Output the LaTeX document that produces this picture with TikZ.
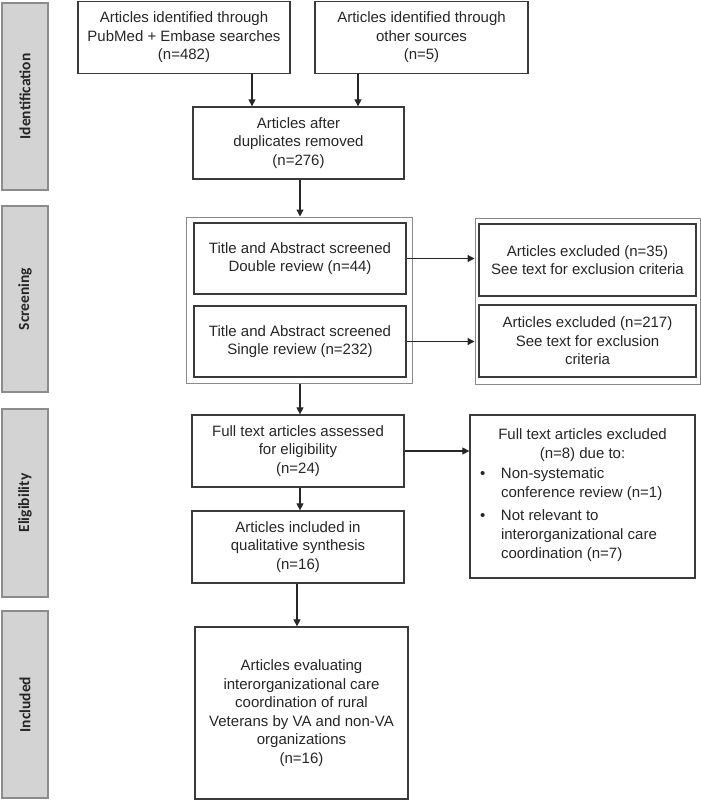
\documentclass[tikz,border=0pt]{standalone}
\usepackage{fontspec}
\setmainfont{Liberation Sans}
\newfontfamily\labelfont{Carlito}
\usetikzlibrary{arrows.meta,calc}
\definecolor{boxline}{HTML}{3A3A3A}
\definecolor{outerline}{HTML}{8A8A8A}
\definecolor{labelfill}{HTML}{D3D3D3}
\definecolor{labelline}{HTML}{8C8C8C}
\begin{document}
\begin{tikzpicture}[x=1pt,y=-1pt,
  box/.style={draw=boxline,line width=1.3pt,align=center,inner sep=0pt,
    font=\fontsize{15}{18.5}\selectfont,text=black!85},
  outerbox/.style={draw=outerline,line width=1pt,inner sep=0pt},
  phase/.style={draw=labelline,fill=labelfill,line width=1.4pt,inner sep=0pt,
    minimum height=46pt,rotate=90,text=black!85,font=\labelfont\bfseries\fontsize{15.5}{18}\selectfont},
  arr/.style={draw=black!85,line width=1.2pt,-{Triangle[length=7pt,width=7pt]}}]
\useasboundingbox (0,0) rectangle (701,800);
% phase labels
\node[phase,minimum width=187pt] (lid) at (25,96.5) {Identification};
\node[phase,minimum width=186pt] (lsc) at (25,299) {Screening};
\node[phase,minimum width=188pt] (lel) at (25,503) {Eligibility};
\node[phase,minimum width=187pt] (lin) at (25,704.5) {Included};
% identification
\node[box,minimum width=212pt,minimum height=72pt] (b1) at (184,37.5)
  {Articles identified through\\PubMed + Embase searches\\(n=482)};
\node[box,minimum width=213pt,minimum height=72pt] (b2) at (421.5,37.5)
  {Articles identified through\\other sources\\(n=5)};
\node[box,minimum width=211pt,minimum height=72pt] (b3) at (298.5,143)
  {Articles after\\duplicates removed\\(n=276)};
% screening
\node[outerbox,minimum width=226pt,minimum height=166pt] (sout) at (299,300) {};
\node[box,minimum width=212pt,minimum height=71pt] (s1) at (300,258.5)
  {Title and Abstract screened\\Double review (n=44)};
\node[box,minimum width=212pt,minimum height=71pt] (s2) at (300,341.5)
  {Title and Abstract screened\\Single review (n=232)};
\node[outerbox,minimum width=225pt,minimum height=166pt] (rout) at (587.5,301) {};
\node[box,minimum width=217pt,minimum height=72pt] (r1) at (587.5,260)
  {Articles excluded (n=35)\\See text for exclusion criteria};
\node[box,minimum width=217pt,minimum height=72pt] (r2) at (587.5,341)
  {Articles excluded (n=217)\\See text for exclusion\\criteria};
% eligibility
\node[box,minimum width=212pt,minimum height=72pt] (ft) at (298,451)
  {Full text articles assessed\\for eligibility\\(n=24)};
\node[box,minimum width=212pt,minimum height=72pt] (qs) at (298,547)
  {Articles included in\\qualitative synthesis\\(n=16)};
\node[box,minimum width=225pt,minimum height=163pt,align=left] (ex) at (582.5,496.5)
  {\begin{minipage}{205pt}\fontsize{15}{19}\selectfont
   \centering Full text articles excluded\\(n=8) due to:\par\vspace{2pt}
   \raggedright
   \begin{tabular}{@{}p{21pt}@{}p{184pt}@{}}
   \textbullet & Non-systematic\newline conference review (n=1)\\[4pt]
   \textbullet & Not relevant to\newline interorganizational care\newline coordination (n=7)
   \end{tabular}
   \end{minipage}};
% included
\node[box,minimum width=213pt,minimum height=172pt] (fin) at (301.5,713)
  {Articles evaluating\\interorganizational care\\coordination of rural\\Veterans by VA and non-VA\\organizations\\(n=16)};
% connectors
\draw[arr] ([xshift=68pt]b1.south) -- ([xshift=68pt]b1.south |- b3.north);
\draw[arr] ([xshift=-63.5pt]b2.south) -- ([xshift=-63.5pt]b2.south |- b3.north);
\draw[arr] ([xshift=1.5pt]b3.south) -- ([xshift=1.5pt]b3.south |- sout.north);
\draw[arr] (s1.east) -- (s1.east -| rout.west);
\draw[arr] (s2.east) -- (s2.east -| rout.west);
\draw[arr] ([xshift=1pt]sout.south) -- ([xshift=1pt]sout.south |- ft.north);
\draw[arr] ([xshift=2pt]ft.south) -- ([xshift=2pt]ft.south |- qs.north);
\draw[arr] (ft.east) -- (ft.east -| ex.west);
\draw[arr] ([xshift=-1pt]qs.south) -- ([xshift=-1pt]qs.south |- fin.north);
\end{tikzpicture}
\end{document}
